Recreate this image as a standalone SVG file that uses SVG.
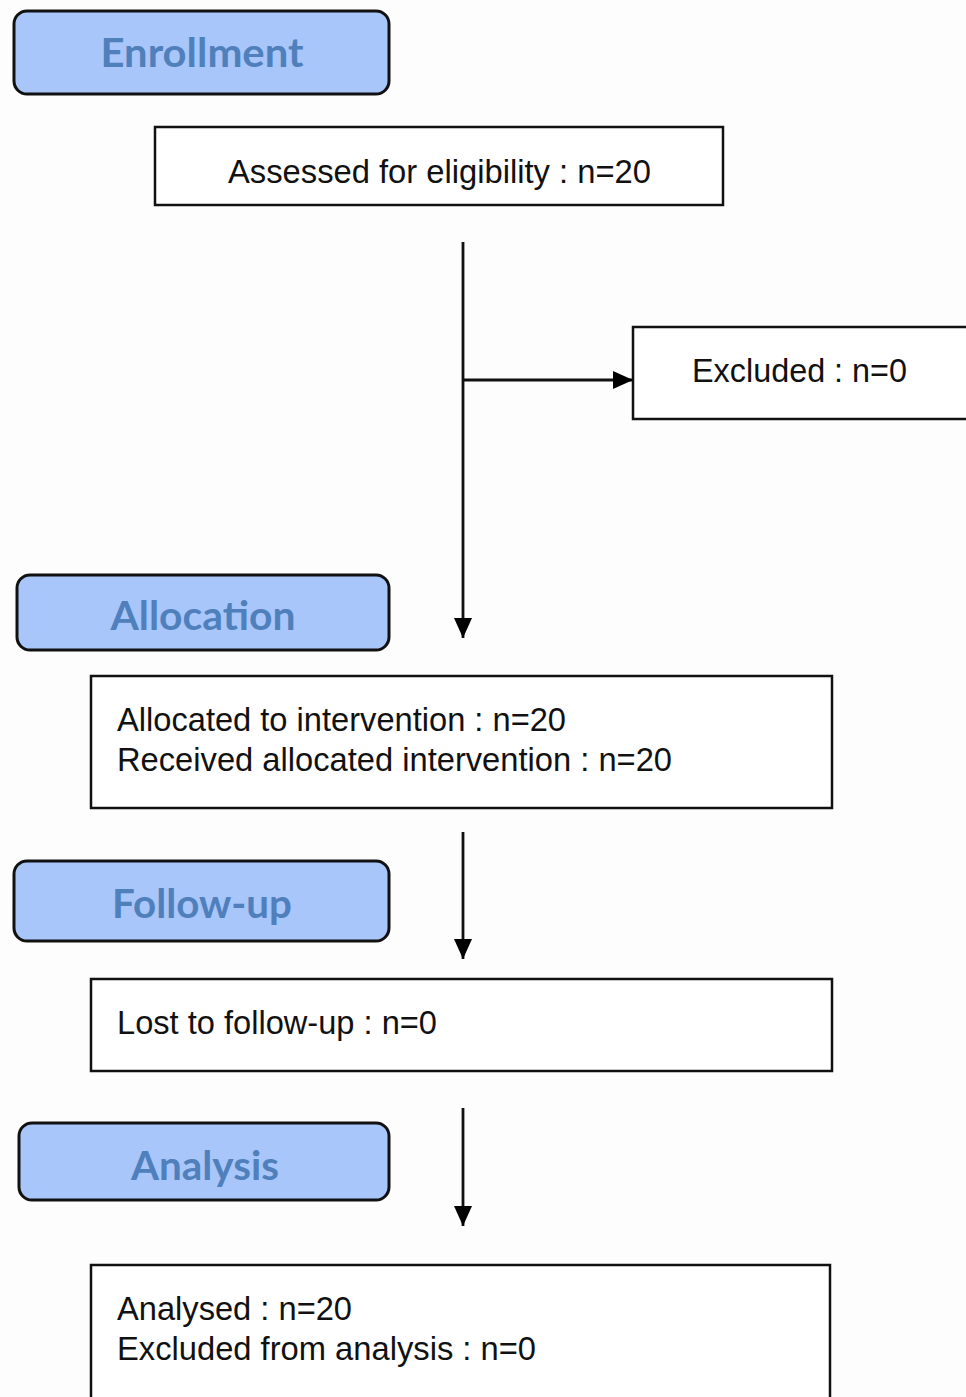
<svg xmlns="http://www.w3.org/2000/svg" width="966" height="1397" viewBox="0 0 966 1397">
<defs>
<marker id="ah" markerWidth="20" markerHeight="20" refX="20" refY="10" orient="auto" markerUnits="userSpaceOnUse">
<path d="M0,1 L20,10 L0,19 Z" fill="#000"/>
</marker>
<style>
.stage rect{fill:#a8c6fa;stroke:#111;stroke-width:3}
.stage text{font-family:Lato,"Open Sans",sans-serif;font-weight:bold;font-size:40px;fill:#4f80bb;text-anchor:middle}
.box rect{fill:#fff;stroke:#111;stroke-width:2.5}
.box text{font-family:"Liberation Sans",Arial,sans-serif;font-size:34px;fill:#111}
.conn line{stroke:#111;stroke-width:2.8;fill:none}
</style>
</defs>
<rect width="966" height="1397" fill="#fdfdfd"/>
<g id="enrollment" class="stage"><rect x="14" y="11" width="375" height="83" rx="13"/><text x="202" y="67" textLength="203" lengthAdjust="spacingAndGlyphs">Enrollment</text></g>
<g id="assessed" class="box"><rect x="155" y="127" width="568" height="78"/><text x="228" y="183" textLength="423" lengthAdjust="spacingAndGlyphs">Assessed for eligibility : n=20</text></g>
<g id="excluded" class="box"><rect x="633" y="327" width="340" height="92"/><text x="692" y="382" textLength="215" lengthAdjust="spacingAndGlyphs">Excluded : n=0</text></g>
<g id="allocation" class="stage"><rect x="17" y="575" width="372" height="75" rx="13"/><text x="203" y="630" textLength="185" lengthAdjust="spacingAndGlyphs">Allocation</text></g>
<g id="allocated" class="box"><rect x="91" y="676" width="741" height="132"/><text x="117" y="731" textLength="449" lengthAdjust="spacingAndGlyphs">Allocated to intervention : n=20</text><text x="117" y="771" textLength="555" lengthAdjust="spacingAndGlyphs">Received allocated intervention : n=20</text></g>
<g id="followup" class="stage"><rect x="14" y="861" width="375" height="80" rx="13"/><text x="202" y="918" textLength="180" lengthAdjust="spacingAndGlyphs">Follow-up</text></g>
<g id="lost" class="box"><rect x="91" y="979" width="741" height="92"/><text x="117" y="1034" textLength="320" lengthAdjust="spacingAndGlyphs">Lost to follow-up : n=0</text></g>
<g id="analysis" class="stage"><rect x="19" y="1123" width="370" height="77" rx="13"/><text x="205" y="1180" textLength="148" lengthAdjust="spacingAndGlyphs">Analysis</text></g>
<g id="analysed" class="box"><rect x="91" y="1265" width="739" height="150"/><text x="117" y="1320" textLength="235" lengthAdjust="spacingAndGlyphs">Analysed : n=20</text><text x="117" y="1360" textLength="419" lengthAdjust="spacingAndGlyphs">Excluded from analysis : n=0</text></g>
<g id="connectors" class="conn">
<line x1="463" y1="242" x2="463" y2="638" marker-end="url(#ah)"/>
<line x1="463" y1="380" x2="633" y2="380" marker-end="url(#ah)"/>
<line x1="463" y1="832" x2="463" y2="959" marker-end="url(#ah)"/>
<line x1="463" y1="1108" x2="463" y2="1226" marker-end="url(#ah)"/>
</g>
</svg>
